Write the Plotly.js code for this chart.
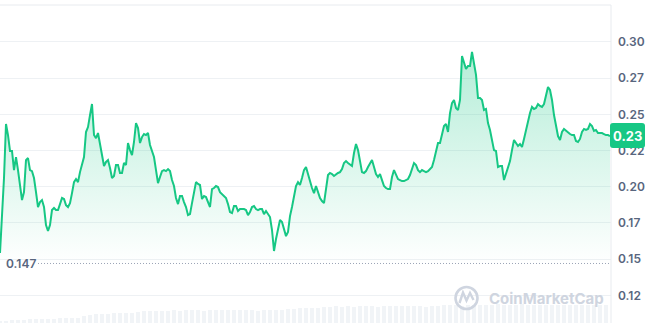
<!DOCTYPE html>
<html><head><meta charset="utf-8">
<script src="https://cdn.plot.ly/plotly-3.0.1.min.js"></script>
<style>html,body{margin:0;padding:0;background:#fff;overflow:hidden}#chart{width:653px;height:323px}</style>
</head><body><div id="chart"></div>
<script>
// Price series (USD), evenly spaced samples, oldest -> newest
const price = [
0.1542,0.1804,0.2060,0.2433,0.2357,0.2247,0.2247,0.2115,0.2205,0.2115,
0.2012,0.1908,0.1963,0.2184,0.2198,0.2115,0.2108,0.2060,0.1963,0.1860,
0.1894,0.1908,0.1860,0.1735,0.1694,0.1735,0.1839,0.1853,0.1839,0.1839,
0.1880,0.1922,0.1915,0.1873,0.1860,0.1887,0.1956,0.2032,0.2053,0.2032,
0.2101,0.2164,0.2205,0.2378,0.2412,0.2495,0.2571,0.2357,0.2336,0.2371,
0.2288,0.2212,0.2143,0.2171,0.2184,0.2129,0.2060,0.2074,0.2150,0.2150,
0.2095,0.2095,0.2164,0.2150,0.2302,0.2253,0.2219,0.2309,0.2440,0.2406,
0.2302,0.2343,0.2364,0.2357,0.2371,0.2288,0.2247,0.2205,0.2115,0.2025,
0.2067,0.2108,0.2115,0.2108,0.2122,0.2108,0.2046,0.2005,0.1922,0.1880,
0.1936,0.1936,0.1894,0.1860,0.1804,0.1811,0.1887,0.1963,0.2032,0.2019,
0.2012,0.1915,0.1936,0.1929,0.1894,0.1860,0.1984,0.1991,0.2005,0.1998,
0.1963,0.1949,0.1929,0.1922,0.1880,0.1825,0.1818,0.1867,0.1867,0.1832,
0.1846,0.1846,0.1846,0.1839,0.1804,0.1825,0.1860,0.1867,0.1846,0.1839,
0.1846,0.1846,0.1811,0.1832,0.1811,0.1791,0.1701,0.1556,0.1639,0.1708,
0.1770,0.1756,0.1701,0.1659,0.1687,0.1797,0.1860,0.1929,0.2005,0.2032,
0.2012,0.2060,0.2115,0.2136,0.2095,0.2039,0.1991,0.1956,0.2005,0.1956,
0.1922,0.1901,0.1887,0.1984,0.2081,0.2095,0.2088,0.2074,0.2088,0.2095,
0.2101,0.2122,0.2164,0.2177,0.2164,0.2150,0.2143,0.2233,0.2295,0.2253,
0.2184,0.2101,0.2095,0.2108,0.2136,0.2157,0.2184,0.2136,0.2088,0.2067,
0.2088,0.2046,0.2005,0.1991,0.1984,0.1984,0.2067,0.2115,0.2088,0.2053,
0.2046,0.2039,0.2039,0.2046,0.2053,0.2081,0.2122,0.2164,0.2150,0.2115,
0.2101,0.2115,0.2108,0.2101,0.2108,0.2122,0.2136,0.2184,0.2240,0.2302,
0.2302,0.2371,0.2419,0.2433,0.2378,0.2509,0.2578,0.2599,0.2544,0.2530,
0.2599,0.2903,0.2862,0.2813,0.2834,0.2834,0.2931,0.2862,0.2772,0.2613,
0.2613,0.2599,0.2530,0.2537,0.2440,0.2392,0.2330,0.2253,0.2247,0.2136,
0.2143,0.2143,0.2046,0.2095,0.2136,0.2177,0.2253,0.2323,0.2302,0.2281,
0.2295,0.2274,0.2330,0.2392,0.2468,0.2509,0.2551,0.2537,0.2544,0.2571,
0.2558,0.2551,0.2571,0.2627,0.2689,0.2668,0.2599,0.2495,0.2412,0.2350,
0.2323,0.2378,0.2399,0.2385,0.2371,0.2364,0.2357,0.2357,0.2316,0.2309,
0.2330,0.2378,0.2399,0.2392,0.2399,0.2433,0.2419,0.2385,0.2392,0.2371,
0.2371,0.2371,0.2364,0.2357,0.2357,0.2350
];
// Trading volume (relative units), one bar per 3 price samples
const volume = [
2,2,3,3,3,4,4,4,4,4,5,5,5,5,7,8,9,9,9,10,
10,10,10,11,12,12,12,12,12,13,12,13,13,13,12,13,13,13,13,13,
13,13,13,12,13,13,13,13,14,14,15,15,15,15,16,16,17,16,17,16,
17,17,17,16,17,17,17,17,17,17,17,16,17,17,18,18,18,17,18,18,
18,18,18,19,18,18,18,19,18,18,18,18,18,18,18,18,18,18,18,18,
18,18
];
const tickVals = [0.125,0.15,0.175,0.2,0.225,0.25,0.275,0.3];
const tickText = ['0.12','0.15','0.17','0.20','0.22','0.25','0.27','0.30'];
const lowPrice = 0.147;
const lowLabel = '0.147';
const lastPrice = 0.2354;
const lastLabel = '0.23';

const GREEN = '#16c784';
const GREY = '#58667e';
const W = 611, H = 318, TOP = 5;
const px = x => x / W;
const py = y => (TOP + H - y) / H;

const xIdx = price.map((_, i) => i);
const vIdx = volume.map((_, i) => i * 3);

const traces = [
  {type:'bar', x:vIdx, y:volume, width:2, marker:{color:'#f1f4f7'}, yaxis:'y', hoverinfo:'skip'},
  {type:'scatter', mode:'lines', x:xIdx, y:price, yaxis:'y2',
   line:{color:GREEN, width:2},
   fill:'tozeroy',
   fillgradient:{type:'vertical', start:lowPrice, stop:0.293,
     colorscale:[[0,'rgba(22,199,132,0)'],[1,'rgba(22,199,132,0.32)']]},
   hoverinfo:'skip'}
];

function roundRect(x0,y0,x1,y1,r){
  const X=v=>px(v), Y=v=>py(v);
  return `M ${X(x0+r)},${Y(y0)} L ${X(x1-r)},${Y(y0)} Q ${X(x1)},${Y(y0)} ${X(x1)},${Y(y0+r)} `+
         `L ${X(x1)},${Y(y1-r)} Q ${X(x1)},${Y(y1)} ${X(x1-r)},${Y(y1)} L ${X(x0+r)},${Y(y1)} `+
         `Q ${X(x0)},${Y(y1)} ${X(x0)},${Y(y1-r)} L ${X(x0)},${Y(y0+r)} Q ${X(x0)},${Y(y0)} ${X(x0+r)},${Y(y0)} Z`;
}

const layout = {
  width:653, height:323,
  margin:{l:0, r:42, t:TOP, b:0, pad:0},
  paper_bgcolor:'#ffffff', plot_bgcolor:'#ffffff',
  showlegend:false, bargap:0,
  font:{family:'Inter, "Noto Sans", sans-serif', color:GREY},
  xaxis:{range:[0, price.length - 0.5], visible:false, fixedrange:true},
  yaxis:{range:[0, 318], visible:false, fixedrange:true},
  yaxis2:{overlaying:'y', side:'right', anchor:'x',
    range:[0.1059, 0.3255], tickvals:tickVals, ticktext:tickText,
    showgrid:true, gridcolor:'#eef1f4', gridwidth:1, zeroline:false,
    ticks:'', ticklabelstandoff:6, showline:false,
    tickfont:{family:'Inter, "Noto Sans", sans-serif', size:12, color:GREY, weight:600}},
  shapes:[
    {type:'line', xref:'paper', yref:'paper', x0:0, x1:1, y0:1, y1:1, line:{color:'#e8ebef', width:1}},
    {type:'line', xref:'paper', yref:'paper', x0:1, x1:1, y0:0, y1:1, line:{color:'#e8ebef', width:1}},
    {type:'line', xref:'paper', yref:'y2', x0:px(38), x1:1, y0:lowPrice, y1:lowPrice,
     line:{color:'#9aa3b5', width:1, dash:'1px,2px'}},
    {type:'circle', xref:'paper', yref:'paper', x0:px(455.5), x1:px(477.5), y0:py(309), y1:py(287),
     line:{color:'#cfd5e0', width:2.6}},
    {type:'path', xref:'paper', yref:'paper',
     path:`M ${px(459.5)},${py(303)} L ${px(463)},${py(292.5)} L ${px(466.5)},${py(300.5)} L ${px(470)},${py(293)} L ${px(473.5)},${py(300)}`,
     line:{color:'#cfd5e0', width:2.4}},
    {type:'path', xref:'paper', yref:'paper', layer:'above', path:roundRect(610,123,645,148,3),
     fillcolor:GREEN, line:{width:0}}
  ],
  annotations:[
    {xref:'paper', yref:'y2', x:px(4), y:lowPrice, xanchor:'left', yanchor:'middle', showarrow:false,
     text:lowLabel, font:{size:12, color:GREY, weight:600}},
    {xref:'paper', yref:'paper', x:px(627.5), y:py(135.5), xanchor:'center', yanchor:'middle', showarrow:false,
     text:lastLabel, font:{size:13, color:'#ffffff', weight:700}},
    {xref:'paper', yref:'paper', x:px(487), y:py(298.5), xanchor:'left', yanchor:'middle', showarrow:false,
     text:'CoinMarketCap', font:{size:15, color:'#cfd5e0', weight:700}}
  ]
};

Plotly.newPlot('chart', traces, layout, {staticPlot:true, displayModeBar:false});
</script>
</body></html>
